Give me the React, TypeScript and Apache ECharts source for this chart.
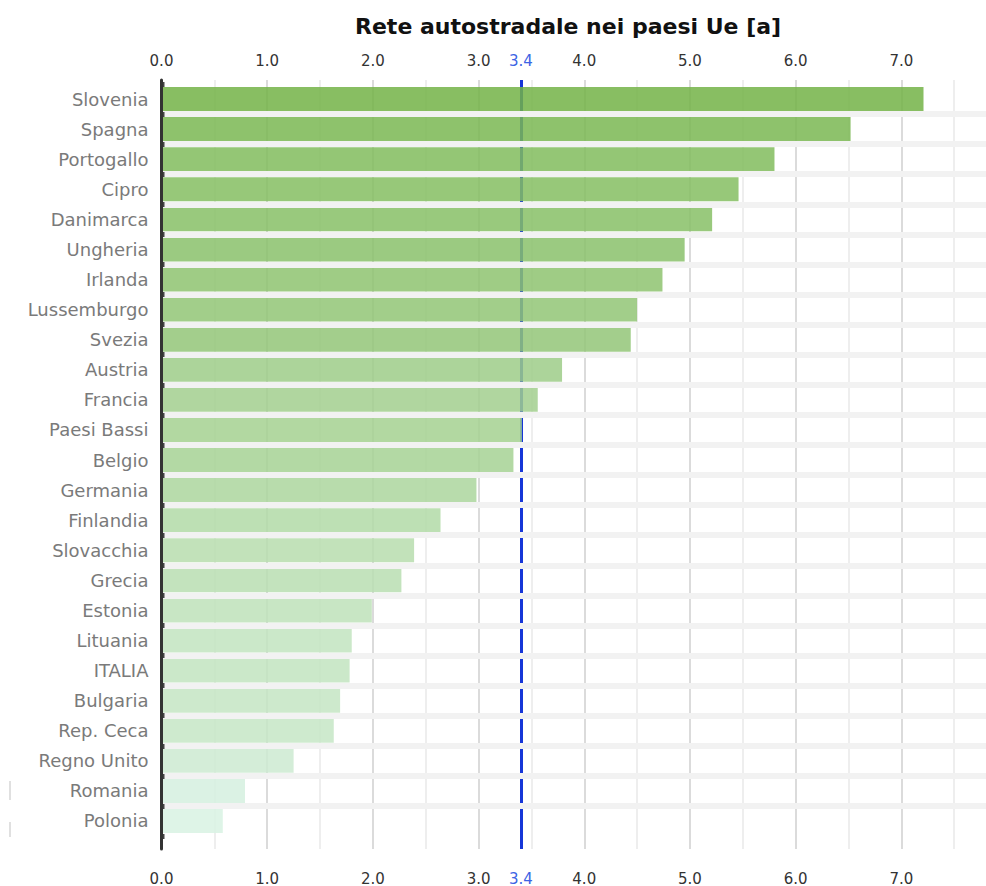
import React, { useEffect, useRef } from "react";
import * as echarts from "echarts";

// Paesi ordinati dal valore più alto al più basso
const countries = [
  "Slovenia", "Spagna", "Portogallo", "Cipro", "Danimarca", "Ungheria", "Irlanda",
  "Lussemburgo", "Svezia", "Austria", "Francia", "Paesi Bassi", "Belgio", "Germania",
  "Finlandia", "Slovacchia", "Grecia", "Estonia", "Lituania", "ITALIA", "Bulgaria",
  "Rep. Ceca", "Regno Unito", "Romania", "Polonia",
];

const values = [
  7.21, 6.52, 5.8, 5.46, 5.21, 4.95, 4.74,
  4.5, 4.44, 3.79, 3.56, 3.41, 3.33, 2.98,
  2.64, 2.39, 2.27, 1.99, 1.8, 1.78, 1.69,
  1.63, 1.25, 0.79, 0.58,
];

// Media Ue
const euAverage = 3.4;

const xTicks = [0, 1, 2, 3, 4, 5, 6, 7, 8];

const FONT = "'DejaVu Sans', Verdana, sans-serif";
const BAR_ALPHA = 0.85;

// Colour ramp (as seen over white), keyed by value
const ramp: [number, [number, number, number]][] = [
  [0, [230, 248, 241]],
  [0.8, [219, 242, 228]],
  [2.0, [200, 230, 196]],
  [3.4, [178, 216, 162]],
  [5.0, [155, 202, 128]],
  [7.2, [136, 190, 99]],
];

function shade(v: number): string {
  let c = ramp[ramp.length - 1][1];
  for (let i = 0; i < ramp.length - 1; i++) {
    const [a, ca] = ramp[i];
    const [b, cb] = ramp[i + 1];
    if (v <= b) {
      const t = Math.max(0, (v - a) / (b - a));
      c = [0, 1, 2].map((k) => ca[k] + (cb[k] - ca[k]) * t) as [number, number, number];
      break;
    }
  }
  // undo the white blend so the translucent bar shows the ramp colour
  const rgb = c.map((ch) =>
    Math.round(Math.min(255, Math.max(0, (ch - 255 * (1 - BAR_ALPHA)) / BAR_ALPHA)))
  );
  return `rgb(${rgb[0]},${rgb[1]},${rgb[2]})`;
}

export default function App() {
  const ref = useRef<HTMLDivElement>(null);

  useEffect(() => {
    if (!ref.current) return;
    const chart = echarts.init(ref.current, undefined, { renderer: "svg" });

    const xMin = xTicks[0];
    const xMax = xTicks[xTicks.length - 1];
    const plotLeft = 161.5;
    const plotRight = 1;

    const tickLabel = {
      color: "#333",
      fontSize: 15,
      fontFamily: FONT,
      formatter: (v: number) => v.toFixed(1),
      showMaxLabel: false,
    };

    chart.setOption({
      animation: false,
      backgroundColor: "#ffffff",
      title: {
        text: "Rete autostradale nei paesi Ue [a]",
        left: 350,
        top: 10,
        textStyle: { fontFamily: FONT, fontSize: 22, fontWeight: "bold", color: "#111" },
      },
      grid: [
        { left: plotLeft, right: plotRight, top: 80, bottom: 35 },
        { left: plotLeft, right: plotRight, top: 84, height: 752 },
      ],
      xAxis: [
        {
          gridIndex: 0,
          type: "value",
          position: "top",
          min: xMin,
          max: xMax,
          interval: 1,
          axisLine: { show: false },
          axisTick: { show: false },
          axisLabel: { ...tickLabel, margin: 12 },
          splitLine: { show: true, lineStyle: { color: "#cfcfcf", width: 1.5 } },
          minorTick: { show: false, splitNumber: 2 },
          minorSplitLine: { show: true, lineStyle: { color: "#e9e9e9", width: 1.5 } },
        },
        {
          gridIndex: 0,
          type: "value",
          position: "bottom",
          min: xMin,
          max: xMax,
          interval: 1,
          axisLine: { show: false },
          axisTick: { show: false },
          axisLabel: { ...tickLabel, margin: 22 },
          splitLine: { show: false },
        },
        {
          gridIndex: 1,
          type: "value",
          min: xMin,
          max: xMax,
          show: false,
        },
      ],
      yAxis: [
        {
          gridIndex: 0,
          type: "value",
          min: 0,
          max: 1,
          z: 10,
          axisLine: { show: true, lineStyle: { color: "#333", width: 3 } },
          axisTick: { show: false },
          axisLabel: { show: false },
          splitLine: { show: false },
        },
        {
          gridIndex: 1,
          type: "category",
          inverse: true,
          data: countries,
          z: 9,
          axisLine: { show: false },
          axisTick: {
            show: true,
            inside: true,
            length: 3,
            lineStyle: { color: "#444", width: 5 },
          },
          axisLabel: { color: "#7a7a7a", fontSize: 18, fontFamily: FONT, margin: 13 },
          splitLine: {
            show: true,
            showMinLine: false,
            showMaxLine: false,
            lineStyle: { color: "#f2f2f2", width: 6 },
          },
        },
      ],
      series: [
        {
          type: "line",
          xAxisIndex: 0,
          yAxisIndex: 0,
          data: [],
          z: 1,
          markLine: {
            silent: true,
            z: 1,
            symbol: "none",
            lineStyle: { color: "#1636d8", width: 3, type: "solid" },
            label: {
              formatter: () => euAverage.toFixed(1),
              color: "#3c64e4",
              fontSize: 15,
              fontFamily: FONT,
            },
            data: [
              { xAxis: euAverage, label: { position: "end", distance: 12 } },
              { xAxis: euAverage, label: { position: "start", distance: 22 } },
            ],
          },
        },
        {
          type: "bar",
          xAxisIndex: 2,
          yAxisIndex: 1,
          barWidth: 24,
          z: 6,
          data: values.map((v) => ({
            value: v,
            itemStyle: { color: shade(v), opacity: BAR_ALPHA },
          })),
        },
      ],
      graphic: [
        {
          type: "line",
          shape: { x1: 10, y1: 781, x2: 10, y2: 800 },
          style: { stroke: "#d6d6d6", lineWidth: 1.5 },
        },
        {
          type: "line",
          shape: { x1: 10, y1: 822, x2: 10, y2: 837 },
          style: { stroke: "#d6d6d6", lineWidth: 1.5 },
        },
      ],
    });

    return () => chart.dispose();
  }, []);

  return (
    <div
      style={{
        position: "fixed",
        left: 0,
        top: 0,
        width: 986,
        height: 886,
        overflow: "hidden",
        background: "#fff",
      }}
    >
      <div ref={ref} style={{ width: 1008, height: 886 }} />
    </div>
  );
}
